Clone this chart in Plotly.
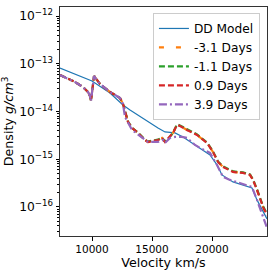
import plotly.graph_objects as go

# ---- data (velocity km/s, log10 density g/cm^3) ----
dd_v = [7333, 9833, 10000, 11500, 12583, 13167, 14167, 15500, 16083, 16917,
        17583, 18583, 19833, 20417, 20833, 21750, 23333, 23750, 24583]
dd_logrho = [-13.089, -13.330, -13.361, -13.613, -13.864, -13.969, -14.136, -14.346,
             -14.429, -14.450, -14.534, -14.702, -14.911, -15.120, -15.330, -15.476,
             -15.602, -15.853, -16.251]

early_v = [7333, 8583, 9250, 9667, 9833, 9917, 10167, 10667, 11500, 12333, 12583]
early_logrho = [-13.236, -13.382, -13.487, -13.592, -13.675, -13.780, -13.257, -13.424,
                -13.592, -13.717, -13.843]

red_v_tail = [12750, 13000, 13333, 13833, 14417, 14667, 15500, 15833, 16083, 16500,
              16750, 17083, 17333, 17917, 18750, 19583, 20083, 20500, 20917, 21750,
              22583, 23167, 23417, 23750, 24250, 24583]
red_logrho_tail = [-14.010, -14.220, -14.346, -14.450, -14.597, -14.639, -14.597, -14.555,
                   -14.639, -14.534, -14.450, -14.283, -14.304, -14.387, -14.492, -14.660,
                   -14.848, -15.058, -15.162, -15.267, -15.288, -15.330, -15.435, -15.644,
                   -16.000, -16.168]

green_logrho_tail = [-14.000, -14.210, -14.340, -14.445, -14.590, -14.630, -14.590, -14.550,
                     -14.630, -14.530, -14.445, -14.270, -14.292, -14.375, -14.480, -14.650,
                     -14.838, -15.050, -15.150, -15.255, -15.276, -15.318, -15.425, -15.630,
                     -15.985, -16.150]

purple_v_tail = [12750, 13333, 14167, 14667, 15500, 15917, 16083, 16500, 16917, 17500,
                 17917, 18583, 19000, 19833, 20417, 20917, 21500, 22333, 23333, 23750,
                 24250, 24583]
purple_logrho_tail = [-14.115, -14.387, -14.534, -14.639, -14.639, -14.597, -14.660, -14.555,
                      -14.534, -14.534, -14.555, -14.702, -14.764, -14.869, -15.120, -15.372,
                      -15.434, -15.497, -15.581, -15.853, -16.209, -16.440]

x_ticks = [10000, 15000, 20000]
y_tick_exps = [-16, -15, -14, -13, -12]

def lin(vals):
    return [10 ** v for v in vals]

fig = go.Figure()
fig.add_trace(go.Scatter(x=dd_v, y=lin(dd_logrho), mode="lines", name="DD Model",
                         line=dict(color="#1f77b4", width=1.2)))
fig.add_trace(go.Scatter(x=early_v + red_v_tail, y=lin(early_logrho + red_logrho_tail),
                         mode="lines", name="-3.1 Days",
                         line=dict(color="#ff7f0e", width=2.2, dash="5px,12px")))
fig.add_trace(go.Scatter(x=early_v + red_v_tail, y=lin(early_logrho + green_logrho_tail),
                         mode="lines", name="-1.1 Days",
                         line=dict(color="#2ca02c", width=2.2, dash="6px,3px")))
fig.add_trace(go.Scatter(x=early_v + red_v_tail, y=lin(early_logrho + red_logrho_tail),
                         mode="lines", name="0.9 Days",
                         line=dict(color="#d62728", width=2.2, dash="6px,3px")))
fig.add_trace(go.Scatter(x=early_v + purple_v_tail, y=lin(early_logrho + purple_logrho_tail),
                         mode="lines", name="3.9 Days",
                         line=dict(color="#9467bd", width=2.2, dash="8px,3px,2px,3px")))

minor_y = [m * 10 ** e for e in range(-17, -11) for m in range(2, 10)]

fig.update_layout(
    width=274, height=274,
    margin=dict(l=60, r=7, t=7, b=38),
    paper_bgcolor="white", plot_bgcolor="white",
    font=dict(family="DejaVu Sans", size=12.5, color="black"),
    showlegend=True,
    legend=dict(x=0.449, y=0.974, xanchor="left", yanchor="top",
                bgcolor="rgba(255,255,255,0.8)", bordercolor="#cccccc", borderwidth=1,
                font=dict(size=12.2), itemwidth=30, tracegroupgap=0,
                entrywidth=61, entrywidthmode="pixels"),
    xaxis=dict(range=[7333, 24583], tickvals=x_ticks, ticktext=[str(v) for v in x_ticks],
               ticks="outside", ticklen=3.5, tickcolor="black", showgrid=False, zeroline=False,
               showline=True, linecolor="#333333", linewidth=1, mirror=True,
               tickfont=dict(size=10.5), automargin=False,
               title=dict(text="Velocity km/s", font=dict(size=12.7), standoff=1)),
    yaxis=dict(type="log", range=[-16.61, -11.81],
               tickvals=[10 ** e for e in y_tick_exps],
               ticktext=["10<sup>\u2212%d</sup>" % (-e) for e in y_tick_exps],
               ticks="outside", ticklen=3.5, tickcolor="black", showgrid=False, zeroline=False,
               showline=True, linecolor="#333333", linewidth=1, mirror=True,
               tickfont=dict(size=12.3), automargin=False,
               minor=dict(tickvals=minor_y, ticks="outside", ticklen=2, tickcolor="black"),
               title=dict(text="Density <i>g/cm</i><sup>3</sup>", font=dict(size=12.7), standoff=2)),
)

fig.write_html("out.html", config={"displayModeBar": False},
               post_script="document.body.style.margin='0';")
